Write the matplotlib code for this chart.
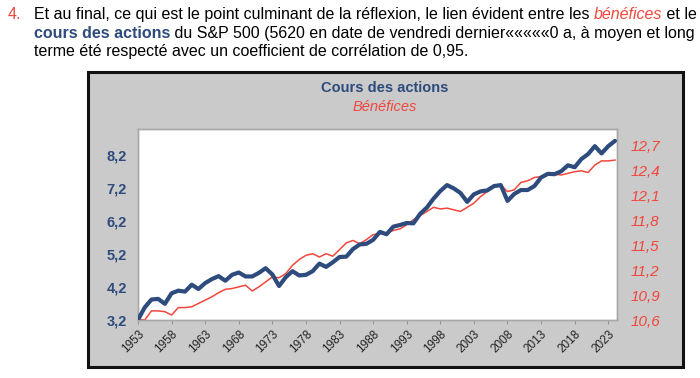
import matplotlib
matplotlib.use("Agg")
import matplotlib.pyplot as plt
from matplotlib.patches import Rectangle
from matplotlib.ticker import FuncFormatter, MultipleLocator

plt.rcParams["font.family"] = ["Liberation Sans", "DejaVu Sans"]

# =========================
# DATA
# =========================
years = list(range(1953, 2025))

cours = [3.21, 3.58, 3.82, 3.84, 3.69, 4.01, 4.09, 4.06, 4.27, 4.14,
         4.32, 4.44, 4.53, 4.39, 4.57, 4.64, 4.52, 4.52, 4.63, 4.77,
         4.58, 4.23, 4.50, 4.68, 4.55, 4.57, 4.68, 4.91, 4.81, 4.95,
         5.11, 5.12, 5.35, 5.49, 5.51, 5.63, 5.87, 5.80, 6.03, 6.08,
         6.14, 6.13, 6.42, 6.61, 6.88, 7.11, 7.29, 7.19, 7.05, 6.78,
         7.01, 7.10, 7.13, 7.26, 7.29, 6.81, 7.02, 7.14, 7.14, 7.26,
         7.52, 7.63, 7.62, 7.71, 7.89, 7.83, 8.08, 8.23, 8.47, 8.25,
         8.47, 8.63]

benefices = [10.61, 10.60, 10.71, 10.71, 10.70, 10.66, 10.75, 10.75, 10.76, 10.80,
             10.84, 10.88, 10.93, 10.97, 10.98, 11.00, 11.02, 10.95, 11.00, 11.06,
             11.12, 11.11, 11.16, 11.26, 11.33, 11.38, 11.40, 11.36, 11.40, 11.37,
             11.45, 11.53, 11.56, 11.52, 11.57, 11.63, 11.64, 11.65, 11.68, 11.70,
             11.75, 11.81, 11.86, 11.91, 11.96, 11.94, 11.95, 11.93, 11.91, 11.96,
             12.01, 12.09, 12.15, 12.23, 12.23, 12.15, 12.17, 12.26, 12.28, 12.32,
             12.33, 12.35, 12.36, 12.35, 12.37, 12.39, 12.40, 12.38, 12.47, 12.52,
             12.52, 12.53]

year_ticks = list(range(1953, 2024, 5))
left_ticks = [3.2, 4.2, 5.2, 6.2, 7.2, 8.2]
right_ticks = [10.6, 10.9, 11.2, 11.5, 11.8, 12.1, 12.4, 12.7]

NAVY = "#2d4b7d"
RED = "#f2463c"
W, H = 700, 378

fig = plt.figure(figsize=(7, 3.78), dpi=100)
fig.patch.set_facecolor("white")

# chart frame (grey box), kept behind the axes
fig.patches.append(Rectangle((88 / W, 1 - 367 / H), 595 / W, 295 / H,
                             transform=fig.transFigure, facecolor="#cacaca",
                             edgecolor="#111111", linewidth=2.2, zorder=-5))

# =========================
# TEXT ABOVE THE CHART
# =========================
renderer = fig.canvas.get_renderer()
FS = 11.5


def put_line(parts, x0, y):
    x = x0
    for txt, kw in parts:
        t = fig.text(x / W, 1 - y / H, txt, fontsize=FS, va="baseline", ha="left", **kw)
        x += t.get_window_extent(renderer).width


fig.text(8 / W, 1 - 19 / H, "4.", fontsize=FS, color=RED, va="baseline")
put_line([("Et au final, ce qui est le point culminant de la réflexion, le lien évident entre les ", dict(color="black")),
          ("bénéfices", dict(color=RED, style="italic")),
          (" et le", dict(color="black"))], 34, 19)
put_line([("cours des actions", dict(color=NAVY, weight="bold")),
          (" du S&P 500 (5620 en date de vendredi dernier«««««0 a, à moyen et long", dict(color="black"))], 34, 38)
put_line([("terme été respecté avec un coefficient de corrélation de 0,95.", dict(color="black"))], 34, 56)

# chart titles
fig.text(385 / W, 1 - 92 / H, "Cours des actions", fontsize=10.5, weight="bold",
         color=NAVY, ha="center", va="baseline")
fig.text(385 / W, 1 - 111 / H, "Bénéfices", fontsize=10.5, style="italic",
         color=RED, ha="center", va="baseline")

# =========================
# PLOT
# =========================
ax = fig.add_axes([138 / W, 1 - 320 / H, 479 / W, 191 / H])
ax2 = ax.twinx()

ax2.plot(years, benefices, color=RED, linewidth=1.1, zorder=2)
ax.plot(years, cours, color=NAVY, linewidth=3.0, zorder=3,
        solid_joinstyle="round", solid_capstyle="round")
ax.set_zorder(ax2.get_zorder() + 1)
ax.patch.set_visible(False)
ax2.patch.set_visible(True)
ax2.patch.set_facecolor("white")

ax.set_xlim(1953, 2024.3)
ax.set_ylim(3.2, 8.99)
ax2.set_ylim(10.6, 12.905)

comma = FuncFormatter(lambda v, p: f"{v:.1f}".replace(".", ","))
ax.set_yticks(left_ticks)
ax.yaxis.set_major_formatter(comma)
ax2.set_yticks(right_ticks)
ax2.yaxis.set_major_formatter(comma)

ax.set_xticks(year_ticks)
ax.xaxis.set_minor_locator(MultipleLocator(1))
ax.set_xticklabels([str(y) for y in year_ticks], rotation=45, ha="right",
                   rotation_mode="anchor", fontsize=8.5, color="#222222")
ax.tick_params(axis="x", which="major", length=3, color="#999999", pad=3)
ax.tick_params(axis="x", which="minor", length=0)

ax.tick_params(axis="y", length=0, pad=8, labelsize=10.5, labelcolor=NAVY)
for lab in ax.get_yticklabels():
    lab.set_fontweight("bold")
ax2.tick_params(axis="y", length=0, pad=9.5, labelsize=11, labelcolor=RED)
for lab in ax2.get_yticklabels():
    lab.set_fontstyle("italic")

for a in (ax, ax2):
    for s in a.spines.values():
        s.set_color("#a8a8a8")
        s.set_linewidth(1.0)

fig.savefig("out.png", dpi=100)
print("done")
